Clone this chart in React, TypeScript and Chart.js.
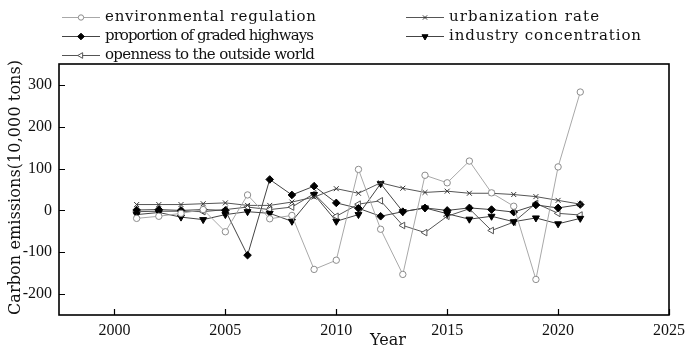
import React, { useEffect, useRef } from "react";
import { Chart, registerables } from "chart.js";
import { drawPoint } from "chart.js/helpers";

Chart.register(...registerables);

const years = [2001, 2002, 2003, 2004, 2005, 2006, 2007, 2008, 2009, 2010, 2011, 2012, 2013, 2014, 2015, 2016, 2017, 2018, 2019, 2020, 2021];
const environmentalRegulation = [-19, -14, -7, 2, -51, 37, -20, -12, -141, -119, 98, -45, -153, 84, 66, 118, 42, 10, -165, 104, 283];
const urbanizationRate = [14, 14, 14, 16, 18, 12, 12, 20, 32, 52, 41, 66, 53, 43, 46, 41, 41, 38, 33, 24, 15];
const gradedHighways = [1, 2, 0, 2, 0, -107, 74, 37, 58, 18, 5, -14, -3, 6, 0, 6, 2, -4, 13, 6, 14];
const industryConcentration = [-10, -5, -16, -22, -10, -3, -7, -26, 38, -26, -10, 64, -3, 6, -8, -21, -14, -27, -18, -32, -19];
const opennessOutside = [-3, -2, -2, -3, 2, 8, 2, 8, 40, -14, 15, 23, -36, -53, -14, 4, -48, -28, 17, -7, -11];

const seriesNames = [
  "environmental regulation",
  "urbanization rate",
  "proportion of graded highways",
  "industry concentration",
  "openness to the outside world",
];
const xTicks = [2000, 2005, 2010, 2015, 2020, 2025];
const yTicks = [-200, -100, 0, 100, 200, 300];
const xTitle = "Year";
const yTitle = "Carbon emissions(10,000 tons)";

const styles = [
  { line: "#a8a8a8", style: "circle", rot: 0, r: 3.2, fill: "#ffffff", stroke: "#8c8c8c" },
  { line: "#555555", style: "crossRot", rot: 0, r: 3.5, fill: "#333333", stroke: "#333333" },
  { line: "#444444", style: "rectRot", rot: 0, r: 3.8, fill: "#000000", stroke: "#000000" },
  { line: "#444444", style: "triangle", rot: 180, r: 4, fill: "#000000", stroke: "#000000" },
  { line: "#555555", style: "triangle", rot: -90, r: 3.8, fill: "#ffffff", stroke: "#555555" },
];

const seriesValues = [environmentalRegulation, urbanizationRate, gradedHighways, industryConcentration, opennessOutside];

function fitText(ctx: CanvasRenderingContext2D, text: string, x: number, y: number, width: number) {
  (ctx as any).letterSpacing = "0px";
  const w = ctx.measureText(text).width;
  const sp = (width - w) / Math.max(1, text.length - 1);
  (ctx as any).letterSpacing = sp.toFixed(2) + "px";
  ctx.fillText(text, x, y);
  (ctx as any).letterSpacing = "0px";
}

const decoPlugin = {
  id: "deco",
  afterDraw(chart: any) {
    const ctx: CanvasRenderingContext2D = chart.ctx;
    const a = chart.chartArea;
    const xs = chart.scales.x;
    const ys = chart.scales.y;
    ctx.save();
    ctx.strokeStyle = "#000";
    ctx.lineWidth = 1.6;
    ctx.strokeRect(a.left, a.top, a.right - a.left, a.bottom - a.top);
    ctx.lineWidth = 1.2;
    ctx.beginPath();
    xTicks.forEach((v) => {
      const px = Math.round(xs.getPixelForValue(v)) + 0.5;
      ctx.moveTo(px, a.bottom);
      ctx.lineTo(px, a.bottom - 6);
    });
    yTicks.forEach((v) => {
      const py = Math.round(ys.getPixelForValue(v)) + 0.5;
      ctx.moveTo(a.left, py);
      ctx.lineTo(a.left + 6, py);
    });
    ctx.stroke();

    // legend
    const cols = [62, 406];
    const rows = [17, 36, 55];
    const widths = [211, 150, 209, 192, 210];
    seriesNames.forEach((name, i) => {
      const cx = cols[i % 2];
      const cy = rows[Math.floor(i / 2)];
      const s = styles[i];
      ctx.strokeStyle = s.line;
      ctx.lineWidth = 1;
      ctx.beginPath();
      ctx.moveTo(cx, cy + 0.5);
      ctx.lineTo(cx + 38, cy + 0.5);
      ctx.stroke();
      ctx.fillStyle = s.fill;
      ctx.strokeStyle = s.stroke;
      ctx.lineWidth = 1;
      drawPoint(ctx, { pointStyle: s.style as any, radius: s.r - 0.5, rotation: s.rot, borderWidth: 1 }, cx + 19, cy + 0.5);
      ctx.fillStyle = "#111";
      ctx.font = '15px "DejaVu Serif"';
      ctx.textBaseline = "middle";
      ctx.textAlign = "left";
      fitText(ctx, name, cx + 43, cy, widths[i]);
    });

    // axis titles
    ctx.fillStyle = "#111";
    ctx.font = '16px "DejaVu Serif"';
    ctx.textAlign = "center";
    ctx.textBaseline = "middle";
    ctx.fillText(xTitle, 388, 341);
    ctx.save();
    ctx.translate(16, 188);
    ctx.rotate(-Math.PI / 2);
    ctx.textAlign = "left";
    fitText(ctx, yTitle, -127, 0, 255);
    ctx.restore();
    ctx.restore();
  },
};

export default function App() {
  const ref = useRef<HTMLCanvasElement | null>(null);
  useEffect(() => {
    if (!ref.current) return;
    const datasets = seriesValues.map((vals, i) => {
      const s = styles[i];
      return {
        label: seriesNames[i],
        data: years.map((y, j) => ({ x: y, y: vals[j] })),
        borderColor: s.line,
        borderWidth: 1,
        pointStyle: s.style as any,
        pointRotation: s.rot,
        pointRadius: s.r,
        pointBackgroundColor: s.fill,
        pointBorderColor: s.stroke,
        pointBorderWidth: 1,
        tension: 0,
        fill: false,
      };
    });
    const chart = new Chart(ref.current, {
      type: "line",
      data: { datasets },
      options: {
        animation: false,
        responsive: false,
        devicePixelRatio: 1,
        layout: { padding: { top: 64, right: 12, left: 0, bottom: 0 } },
        plugins: { legend: { display: false }, tooltip: { enabled: false } },
        scales: {
          x: {
            type: "linear",
            min: 1997.5,
            max: 2025,
            grid: { display: false, drawTicks: false },
            border: { display: false },
            afterFit: (s: any) => {
              s.height = 33;
            },
            afterBuildTicks: (s: any) => {
              s.ticks = xTicks.map((v) => ({ value: v }));
            },
            ticks: {
              padding: 6,
              color: "#111",
              font: { family: "Liberation Serif", size: 16 },
              callback: (v: any) => String(v),
              maxRotation: 0,
              autoSkip: false,
            },
          },
          y: {
            type: "linear",
            min: -250,
            max: 350,
            grid: { display: false, drawTicks: false },
            border: { display: false },
            afterFit: (s: any) => {
              s.width = 59;
            },
            afterBuildTicks: (s: any) => {
              s.ticks = yTicks.map((v) => ({ value: v }));
            },
            ticks: {
              padding: 7,
              color: "#111",
              font: { family: "Liberation Serif", size: 16 },
              callback: (v: any) => String(v),
            },
          },
        },
      },
      plugins: [decoPlugin],
    });
    return () => chart.destroy();
  }, []);
  return (
    <div style={{ position: "fixed", left: 0, top: 0, width: 691, height: 348, background: "#fff" }}>
      <canvas ref={ref} width={691} height={348} style={{ width: 691, height: 348, display: "block" }} />
    </div>
  );
}
